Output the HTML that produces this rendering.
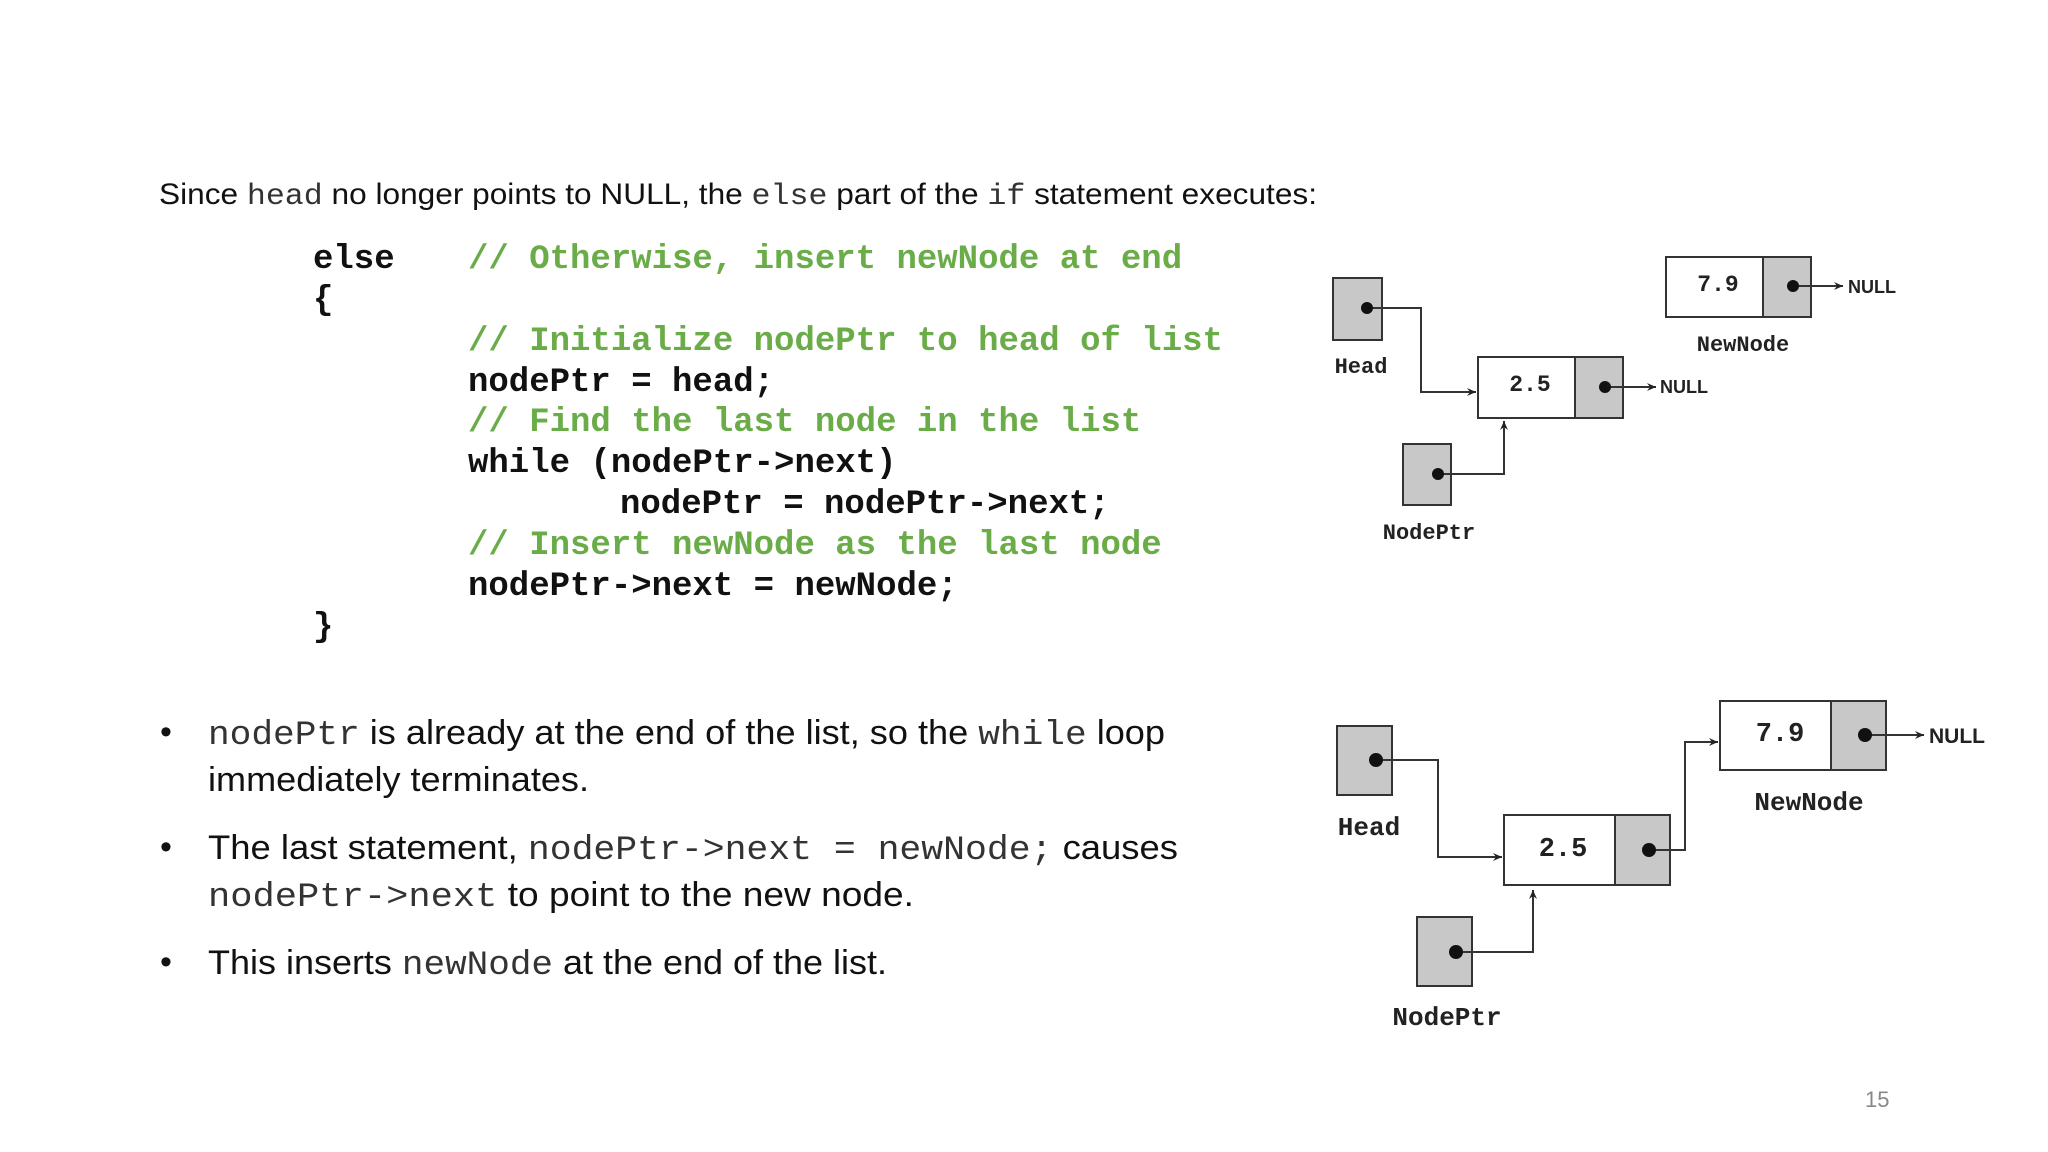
<!DOCTYPE html>
<html><head><meta charset="utf-8"><style>
html,body{margin:0;padding:0;background:#fff}
svg{display:block}
.t{font-family:"Liberation Sans",sans-serif;fill:#111}
.m{font-family:"Liberation Mono",monospace;font-weight:normal;fill:#333}
.c{font-family:"Liberation Mono",monospace;font-weight:bold;font-size:34px;fill:#111}
.g{fill:#6aac48}
.d{font-family:"Liberation Mono",monospace;font-weight:bold;fill:#222}
.n{font-family:"Liberation Sans",sans-serif;font-weight:bold;fill:#222}
</style></head><body>
<svg width="2048" height="1152" viewBox="0 0 2048 1152" xmlns="http://www.w3.org/2000/svg">
<defs>
<marker id="a" markerWidth="10" markerHeight="10" refX="9" refY="5" orient="auto" markerUnits="userSpaceOnUse">
<path d="M0,1 L9,5 L0,9 L3,5 Z" fill="#222"/></marker>
</defs>
<!-- heading -->
<text class="t" x="159" y="204" font-size="30" textLength="1158" lengthAdjust="spacingAndGlyphs">Since <tspan class="m">head</tspan> no longer points to NULL, the <tspan class="m">else</tspan> part of the <tspan class="m">if</tspan> statement executes:</text>
<!-- code -->
<text class="c" x="313" y="268">else</text>
<text class="c g" x="468" y="268">// Otherwise, insert newNode at end</text>
<text class="c" x="313" y="309">{</text>
<text class="c g" x="468" y="350">// Initialize nodePtr to head of list</text>
<text class="c" x="468" y="391">nodePtr = head;</text>
<text class="c g" x="468" y="431">// Find the last node in the list</text>
<text class="c" x="468" y="472">while (nodePtr-&gt;next)</text>
<text class="c" x="620" y="513">nodePtr = nodePtr-&gt;next;</text>
<text class="c g" x="468" y="554">// Insert newNode as the last node</text>
<text class="c" x="468" y="595">nodePtr-&gt;next = newNode;</text>
<text class="c" x="313" y="636">}</text>
<!-- bullets -->
<g class="t" font-size="34">
<text x="160" y="743">•</text>
<text x="160" y="858">•</text>
<text x="160" y="973">•</text>
<text x="208" y="744" textLength="957" lengthAdjust="spacingAndGlyphs"><tspan class="m">nodePtr</tspan> is already at the end of the list, so the <tspan class="m">while</tspan> loop</text>
<text x="208" y="791" textLength="381" lengthAdjust="spacingAndGlyphs">immediately terminates.</text>
<text x="208" y="859" textLength="970" lengthAdjust="spacingAndGlyphs">The last statement, <tspan class="m">nodePtr-&gt;next = newNode;</tspan> causes</text>
<text x="208" y="906" textLength="706" lengthAdjust="spacingAndGlyphs"><tspan class="m">nodePtr-&gt;next</tspan> to point to the new node.</text>
<text x="208" y="974" textLength="679" lengthAdjust="spacingAndGlyphs">This inserts <tspan class="m">newNode</tspan> at the end of the list.</text>
</g>
<text x="1865" y="1107" font-family="Liberation Sans,sans-serif" font-size="22" fill="#888">15</text>

<!-- diagram 1 -->
<g stroke="#333" stroke-width="2" fill="none">
<rect x="1333" y="278" width="49" height="62" fill="#c8c8c8"/>
<rect x="1478" y="357" width="145" height="61" fill="#fff"/>
<rect x="1575" y="357" width="48" height="61" fill="#c8c8c8"/>
<rect x="1403" y="444" width="48" height="61" fill="#c8c8c8"/>
<rect x="1666" y="257" width="145" height="60" fill="#fff"/>
<rect x="1763" y="257" width="48" height="60" fill="#c8c8c8"/>
<polyline points="1367,308 1421,308 1421,392 1476,392" marker-end="url(#a)"/>
<polyline points="1438,474 1504,474 1504,421" marker-end="url(#a)"/>
<line x1="1605" y1="387" x2="1656" y2="387" marker-end="url(#a)"/>
<line x1="1793" y1="286" x2="1843" y2="286" marker-end="url(#a)"/>
</g>
<g fill="#111">
<circle cx="1367" cy="308" r="6"/><circle cx="1605" cy="387" r="6"/>
<circle cx="1438" cy="474" r="6"/><circle cx="1793" cy="286" r="6"/>
</g>
<g class="d" font-size="22" text-anchor="middle">
<text x="1361" y="373">Head</text>
<text x="1429" y="539">NodePtr</text>
<text x="1743" y="351">NewNode</text>
<text x="1530" y="391" font-size="23">2.5</text>
<text x="1718" y="291" font-size="23">7.9</text>
</g>
<g class="n" font-size="18">
<text x="1660" y="393">NULL</text>
<text x="1848" y="293">NULL</text>
</g>

<!-- diagram 2 -->
<g stroke="#333" stroke-width="2" fill="none">
<rect x="1337" y="726" width="55" height="69" fill="#c8c8c8"/>
<rect x="1504" y="815" width="166" height="70" fill="#fff"/>
<rect x="1615" y="815" width="55" height="70" fill="#c8c8c8"/>
<rect x="1417" y="917" width="55" height="69" fill="#c8c8c8"/>
<rect x="1720" y="701" width="166" height="69" fill="#fff"/>
<rect x="1831" y="701" width="55" height="69" fill="#c8c8c8"/>
<polyline points="1376,760 1438,760 1438,857 1502,857" marker-end="url(#a)"/>
<polyline points="1456,952 1533,952 1533,890" marker-end="url(#a)"/>
<polyline points="1649,850 1685,850 1685,742 1718,742" marker-end="url(#a)"/>
<line x1="1865" y1="735" x2="1924" y2="735" marker-end="url(#a)"/>
</g>
<g fill="#111">
<circle cx="1376" cy="760" r="7"/><circle cx="1649" cy="850" r="7"/>
<circle cx="1456" cy="952" r="7"/><circle cx="1865" cy="735" r="7"/>
</g>
<g class="d" font-size="26" text-anchor="middle">
<text x="1369" y="835">Head</text>
<text x="1447" y="1025">NodePtr</text>
<text x="1809" y="810">NewNode</text>
<text x="1563" y="856" font-size="27">2.5</text>
<text x="1780" y="741" font-size="27">7.9</text>
</g>
<text class="n" x="1929" y="743" font-size="21">NULL</text>
</svg>
</body></html>
